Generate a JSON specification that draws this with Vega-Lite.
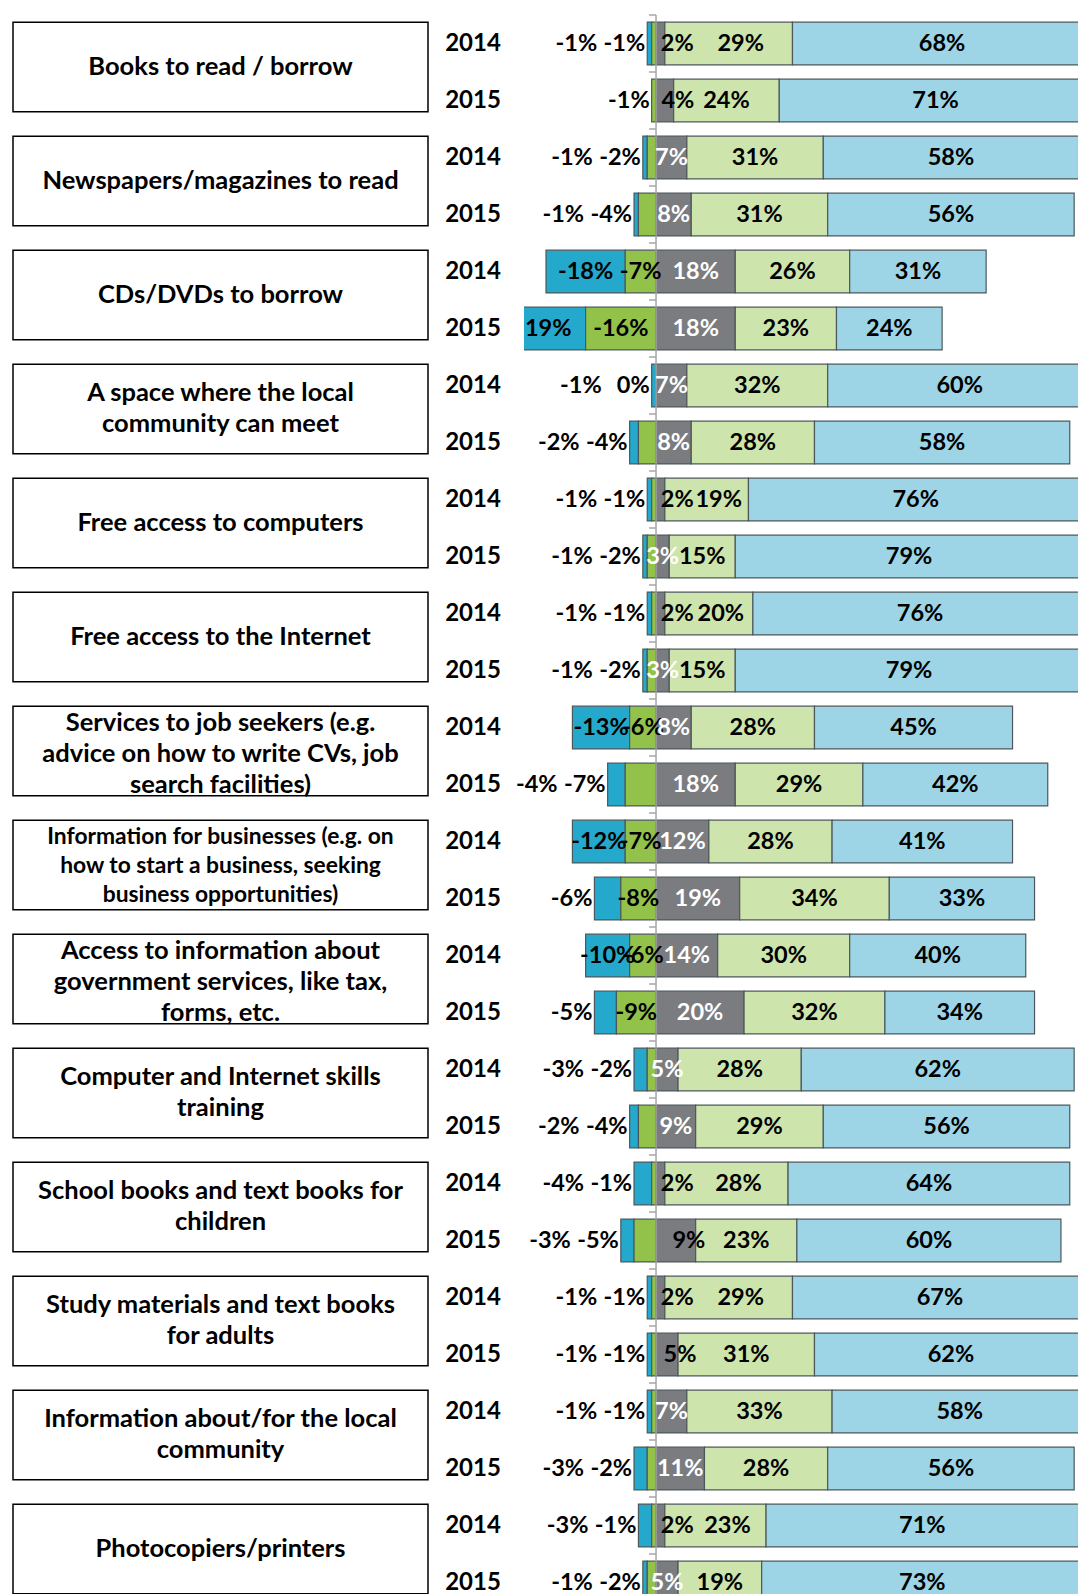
{
  "$schema": "https://vega.github.io/schema/vega-lite/v6.json",
  "padding": {"left": 12, "top": 14, "right": 0, "bottom": 0},
  "background": "white",
  "bounds": "flush",
  "spacing": 0,
  "config": {"view": {"stroke": null}, "font": "Lato", "text": {"fontWeight": "bold", "baseline": "middle", "color": "black"}},
  "datasets": {
    "cats": [
      {"cat": "Books to read / borrow", "label": ["Books to read / borrow"]},
      {"cat": "Newspapers/magazines to read", "label": ["Newspapers/magazines to read"]},
      {"cat": "CDs/DVDs to borrow", "label": ["CDs/DVDs to borrow"]},
      {"cat": "A space where the local community can meet", "label": ["A space where the local", "community can meet"]},
      {"cat": "Free access to computers", "label": ["Free access to computers"]},
      {"cat": "Free access to the Internet", "label": ["Free access to the Internet"]},
      {"cat": "Services to job seekers", "label": ["Services to job seekers (e.g.", "advice on how to write CVs, job", "search facilities)"]},
      {"cat": "Information for businesses", "label": ["Information for businesses (e.g. on", "how to start a business, seeking", "business opportunities)"]},
      {"cat": "Access to information about government services", "label": ["Access to information about", "government services, like tax,", "forms, etc."]},
      {"cat": "Computer and Internet skills training", "label": ["Computer and Internet skills", "training"]},
      {"cat": "School books and text books for children", "label": ["School books and text books for", "children"]},
      {"cat": "Study materials and text books for adults", "label": ["Study materials and text books", "for adults"]},
      {"cat": "Information about/for the local community", "label": ["Information about/for the local", "community"]},
      {"cat": "Photocopiers/printers", "label": ["Photocopiers/printers"]}
    ],
    "rows": [
      {"cat": "Books to read / borrow", "year": "2014", "vneg": -1, "neg": -1, "neu": 2, "pos": 29, "vpos": 68},
      {"cat": "Books to read / borrow", "year": "2015", "vneg": 0, "neg": -1, "neu": 4, "pos": 24, "vpos": 71},
      {"cat": "Newspapers/magazines to read", "year": "2014", "vneg": -1, "neg": -2, "neu": 7, "pos": 31, "vpos": 58},
      {"cat": "Newspapers/magazines to read", "year": "2015", "vneg": -1, "neg": -4, "neu": 8, "pos": 31, "vpos": 56},
      {"cat": "CDs/DVDs to borrow", "year": "2014", "vneg": -18, "neg": -7, "neu": 18, "pos": 26, "vpos": 31},
      {"cat": "CDs/DVDs to borrow", "year": "2015", "vneg": -19, "neg": -16, "neu": 18, "pos": 23, "vpos": 24},
      {"cat": "A space where the local community can meet", "year": "2014", "vneg": -1, "neg": 0, "neu": 7, "pos": 32, "vpos": 60},
      {"cat": "A space where the local community can meet", "year": "2015", "vneg": -2, "neg": -4, "neu": 8, "pos": 28, "vpos": 58},
      {"cat": "Free access to computers", "year": "2014", "vneg": -1, "neg": -1, "neu": 2, "pos": 19, "vpos": 76},
      {"cat": "Free access to computers", "year": "2015", "vneg": -1, "neg": -2, "neu": 3, "pos": 15, "vpos": 79},
      {"cat": "Free access to the Internet", "year": "2014", "vneg": -1, "neg": -1, "neu": 2, "pos": 20, "vpos": 76},
      {"cat": "Free access to the Internet", "year": "2015", "vneg": -1, "neg": -2, "neu": 3, "pos": 15, "vpos": 79},
      {"cat": "Services to job seekers", "year": "2014", "vneg": -13, "neg": -6, "neu": 8, "pos": 28, "vpos": 45},
      {"cat": "Services to job seekers", "year": "2015", "vneg": -4, "neg": -7, "neu": 18, "pos": 29, "vpos": 42},
      {"cat": "Information for businesses", "year": "2014", "vneg": -12, "neg": -7, "neu": 12, "pos": 28, "vpos": 41},
      {"cat": "Information for businesses", "year": "2015", "vneg": -6, "neg": -8, "neu": 19, "pos": 34, "vpos": 33},
      {"cat": "Access to information about government services", "year": "2014", "vneg": -10, "neg": -6, "neu": 14, "pos": 30, "vpos": 40},
      {"cat": "Access to information about government services", "year": "2015", "vneg": -5, "neg": -9, "neu": 20, "pos": 32, "vpos": 34},
      {"cat": "Computer and Internet skills training", "year": "2014", "vneg": -3, "neg": -2, "neu": 5, "pos": 28, "vpos": 62},
      {"cat": "Computer and Internet skills training", "year": "2015", "vneg": -2, "neg": -4, "neu": 9, "pos": 29, "vpos": 56},
      {"cat": "School books and text books for children", "year": "2014", "vneg": -4, "neg": -1, "neu": 2, "pos": 28, "vpos": 64},
      {"cat": "School books and text books for children", "year": "2015", "vneg": -3, "neg": -5, "neu": 9, "pos": 23, "vpos": 60},
      {"cat": "Study materials and text books for adults", "year": "2014", "vneg": -1, "neg": -1, "neu": 2, "pos": 29, "vpos": 67},
      {"cat": "Study materials and text books for adults", "year": "2015", "vneg": -1, "neg": -1, "neu": 5, "pos": 31, "vpos": 62},
      {"cat": "Information about/for the local community", "year": "2014", "vneg": -1, "neg": -1, "neu": 7, "pos": 33, "vpos": 58},
      {"cat": "Information about/for the local community", "year": "2015", "vneg": -3, "neg": -2, "neu": 11, "pos": 28, "vpos": 56},
      {"cat": "Photocopiers/printers", "year": "2014", "vneg": -3, "neg": -1, "neu": 2, "pos": 23, "vpos": 71},
      {"cat": "Photocopiers/printers", "year": "2015", "vneg": -1, "neg": -2, "neu": 5, "pos": 19, "vpos": 73}
    ]
  },
  "hconcat": [
    {
      "width": 415,
      "height": 1596,
      "data": {"name": "cats"},
      "encoding": {
        "y": {"field": "cat", "type": "nominal", "sort": null, "scale": {"paddingInner": 0, "paddingOuter": 0}, "axis": null}
      },
      "layer": [
        {
          "mark": {"type": "bar", "height": {"band": 0.785}, "yOffset": -5, "fill": "white", "stroke": "black", "strokeWidth": 1.5},
          "encoding": {"x": {"value": 0}, "x2": {"value": "width"}}
        },
        {
          "transform": [{"filter": "length(datum.label) === 1"}],
          "mark": {"type": "text", "fontSize": 25.5, "lineHeight": 31, "align": "center", "dy": -5},
          "encoding": {"text": {"field": "label"}}
        },
        {
          "transform": [{"filter": "length(datum.label) === 2"}],
          "mark": {"type": "text", "fontSize": 25.5, "lineHeight": 31, "align": "center", "dy": -21},
          "encoding": {"text": {"field": "label"}}
        },
        {
          "transform": [{"filter": "length(datum.label) === 3 && datum.cat !== 'Information for businesses'"}],
          "mark": {"type": "text", "fontSize": 25.5, "lineHeight": 31, "align": "center", "dy": -33},
          "encoding": {"text": {"field": "label"}}
        },
        {
          "transform": [{"filter": "datum.cat === 'Information for businesses'"}],
          "mark": {"type": "text", "fontSize": 22.8, "lineHeight": 29, "align": "center", "dy": -33},
          "encoding": {"text": {"field": "label"}}
        }
      ]
    },
    {
      "width": 96,
      "height": 1596,
      "data": {"name": "rows"},
      "mark": {"type": "text", "fontSize": 24, "align": "center", "dx": -3},
      "encoding": {
        "y": {"field": "cat", "type": "nominal", "sort": null, "scale": {"paddingInner": 0, "paddingOuter": 0}, "axis": null},
        "yOffset": {"field": "year", "type": "nominal", "scale": {"domain": ["2014", "2015"], "paddingInner": 0.25, "paddingOuter": 0.125}},
        "text": {"field": "year"}
      }
    },
    {
      "width": 555,
      "height": 1596,
      "data": {"name": "rows"},
      "transform": [
        {"calculate": "datum.neg + datum.vneg", "as": "negEnd"},
        {"calculate": "datum.neg + datum.vneg / 2", "as": "vnegMid"},
        {"calculate": "datum.neg / 2", "as": "negMid"},
        {"calculate": "datum.neu / 2", "as": "neuMid"},
        {"calculate": "datum.neu + datum.pos / 2", "as": "posMid"},
        {"calculate": "datum.neu + datum.pos + datum.vpos / 2", "as": "vposMid"},
        {"calculate": "datum.vneg <= -10 || datum.neg <= -8", "as": "negInside"},
        {"calculate": "datum.year === '2015' && (datum.cat === 'Books to read / borrow' || datum.cat === 'School books and text books for children' || datum.cat === 'Study materials and text books for adults')", "as": "grayShift"},
        {"calculate": "datum.vneg + '%'", "as": "vnegLabel"},
        {"calculate": "datum.neg + '%'", "as": "negLabel"},
        {"calculate": "datum.neu + '%'", "as": "neuLabel"},
        {"calculate": "datum.pos + '%'", "as": "posLabel"},
        {"calculate": "datum.vpos + '%'", "as": "vposLabel"}
      ],
      "layer": [
        {
          "transform": [
            {"fold": ["vneg", "neg", "neu", "pos", "vpos"], "as": ["key", "value"]},
            {"filter": "datum.value != 0"},
            {"calculate": "indexof(['neg','vneg','neu','pos','vpos'], datum.key)", "as": "ord"}
          ],
          "mark": {"type": "bar", "stroke": "#4d585c", "strokeWidth": 1.2, "clip": true},
          "encoding": {
            "y": {"field": "cat", "type": "nominal", "sort": null, "scale": {"paddingInner": 0, "paddingOuter": 0}, "axis": null},
            "yOffset": {"field": "year", "type": "nominal", "scale": {"domain": ["2014", "2015"], "paddingInner": 0.25, "paddingOuter": 0.125}},
            "x": {"field": "value", "type": "quantitative", "stack": "zero", "scale": {"domain": [-30, 96.1], "nice": false, "zero": false}, "axis": null},
            "color": {"field": "key", "type": "nominal", "scale": {"domain": ["vneg", "neg", "neu", "pos", "vpos"], "range": ["#24a9cc", "#92c249", "#7a7c80", "#cde4ac", "#9dd5e6"]}, "legend": null},
            "order": {"field": "ord", "type": "quantitative"}
          }
        },
        {
          "transform": [{"filter": "datum.cat === 'Books to read / borrow' && datum.year === '2014'"}],
          "mark": {"type": "rule", "color": "#a6a6a6", "strokeWidth": 1.5},
          "encoding": {"x": {"datum": 0, "type": "quantitative"}}
        },
        {
          "transform": [{"filter": "datum.year === '2014'"}],
          "mark": {"type": "rule", "color": "#a6a6a6", "strokeWidth": 1.5, "x2Offset": -7},
          "encoding": {
            "y": {"field": "cat", "type": "nominal", "sort": null, "bandPosition": 0},
            "x": {"datum": 0, "type": "quantitative"},
            "x2": {"datum": 0}
          }
        },
        {
          "transform": [{"filter": "datum.year === '2014'"}],
          "mark": {"type": "rule", "color": "#a6a6a6", "strokeWidth": 1.5, "x2Offset": -7},
          "encoding": {
            "y": {"field": "cat", "type": "nominal", "sort": null, "bandPosition": 0.5},
            "x": {"datum": 0, "type": "quantitative"},
            "x2": {"datum": 0}
          }
        },
        {
          "transform": [{"filter": "datum.vneg <= -10"}],
          "mark": {"type": "text", "fontSize": 23.5, "align": "center", "clip": true},
          "encoding": {
            "y": {"field": "cat", "type": "nominal", "sort": null},
            "yOffset": {"field": "year", "type": "nominal"},
            "x": {"field": "vnegMid", "type": "quantitative"},
            "text": {"field": "vnegLabel"}
          }
        },
        {
          "transform": [{"filter": "datum.vneg > -10 && datum.vneg != 0 && datum.neg <= -8"}],
          "mark": {"type": "text", "fontSize": 23.5, "align": "right", "dx": -2},
          "encoding": {
            "y": {"field": "cat", "type": "nominal", "sort": null},
            "yOffset": {"field": "year", "type": "nominal"},
            "x": {"field": "negEnd", "type": "quantitative"},
            "text": {"field": "vnegLabel"}
          }
        },
        {
          "transform": [{"filter": "datum.vneg > -10 && datum.vneg != 0 && datum.neg > -8"}],
          "mark": {"type": "text", "fontSize": 23.5, "align": "right", "dx": -50},
          "encoding": {
            "y": {"field": "cat", "type": "nominal", "sort": null},
            "yOffset": {"field": "year", "type": "nominal"},
            "x": {"field": "negEnd", "type": "quantitative"},
            "text": {"field": "vnegLabel"}
          }
        },
        {
          "transform": [{"filter": "datum.negInside"}],
          "mark": {"type": "text", "fontSize": 23.5, "align": "center", "clip": true},
          "encoding": {
            "y": {"field": "cat", "type": "nominal", "sort": null},
            "yOffset": {"field": "year", "type": "nominal"},
            "x": {"field": "negMid", "type": "quantitative"},
            "text": {"field": "negLabel"}
          }
        },
        {
          "transform": [{"filter": "!datum.negInside"}],
          "mark": {"type": "text", "fontSize": 23.5, "align": "right", "dx": -2},
          "encoding": {
            "y": {"field": "cat", "type": "nominal", "sort": null},
            "yOffset": {"field": "year", "type": "nominal"},
            "x": {"field": "negEnd", "type": "quantitative"},
            "text": {"field": "negLabel"}
          }
        },
        {
          "transform": [{"filter": "datum.neu > 2 && !datum.grayShift"}],
          "mark": {"type": "text", "fontSize": 23.5, "align": "center", "color": "white", "clip": true},
          "encoding": {
            "y": {"field": "cat", "type": "nominal", "sort": null},
            "yOffset": {"field": "year", "type": "nominal"},
            "x": {"field": "neuMid", "type": "quantitative"},
            "text": {"field": "neuLabel"}
          }
        },
        {
          "transform": [{"filter": "datum.grayShift"}],
          "mark": {"type": "text", "fontSize": 23.5, "align": "center", "dx": 13, "clip": true},
          "encoding": {
            "y": {"field": "cat", "type": "nominal", "sort": null},
            "yOffset": {"field": "year", "type": "nominal"},
            "x": {"field": "neuMid", "type": "quantitative"},
            "text": {"field": "neuLabel"}
          }
        },
        {
          "transform": [{"filter": "datum.neu <= 2"}],
          "mark": {"type": "text", "fontSize": 23.5, "align": "left", "dx": -4, "clip": true},
          "encoding": {
            "y": {"field": "cat", "type": "nominal", "sort": null},
            "yOffset": {"field": "year", "type": "nominal"},
            "x": {"field": "neu", "type": "quantitative"},
            "text": {"field": "neuLabel"}
          }
        },
        {
          "transform": [{"filter": "datum.neu > 2"}],
          "mark": {"type": "text", "fontSize": 23.5, "align": "center", "clip": true},
          "encoding": {
            "y": {"field": "cat", "type": "nominal", "sort": null},
            "yOffset": {"field": "year", "type": "nominal"},
            "x": {"field": "posMid", "type": "quantitative"},
            "text": {"field": "posLabel"}
          }
        },
        {
          "transform": [{"filter": "datum.neu <= 2"}],
          "mark": {"type": "text", "fontSize": 23.5, "align": "center", "dx": 12, "clip": true},
          "encoding": {
            "y": {"field": "cat", "type": "nominal", "sort": null},
            "yOffset": {"field": "year", "type": "nominal"},
            "x": {"field": "posMid", "type": "quantitative"},
            "text": {"field": "posLabel"}
          }
        },
        {
          "mark": {"type": "text", "fontSize": 23.5, "align": "center", "clip": true},
          "encoding": {
            "y": {"field": "cat", "type": "nominal", "sort": null},
            "yOffset": {"field": "year", "type": "nominal"},
            "x": {"field": "vposMid", "type": "quantitative"},
            "text": {"field": "vposLabel"}
          }
        }
      ]
    }
  ]
}
